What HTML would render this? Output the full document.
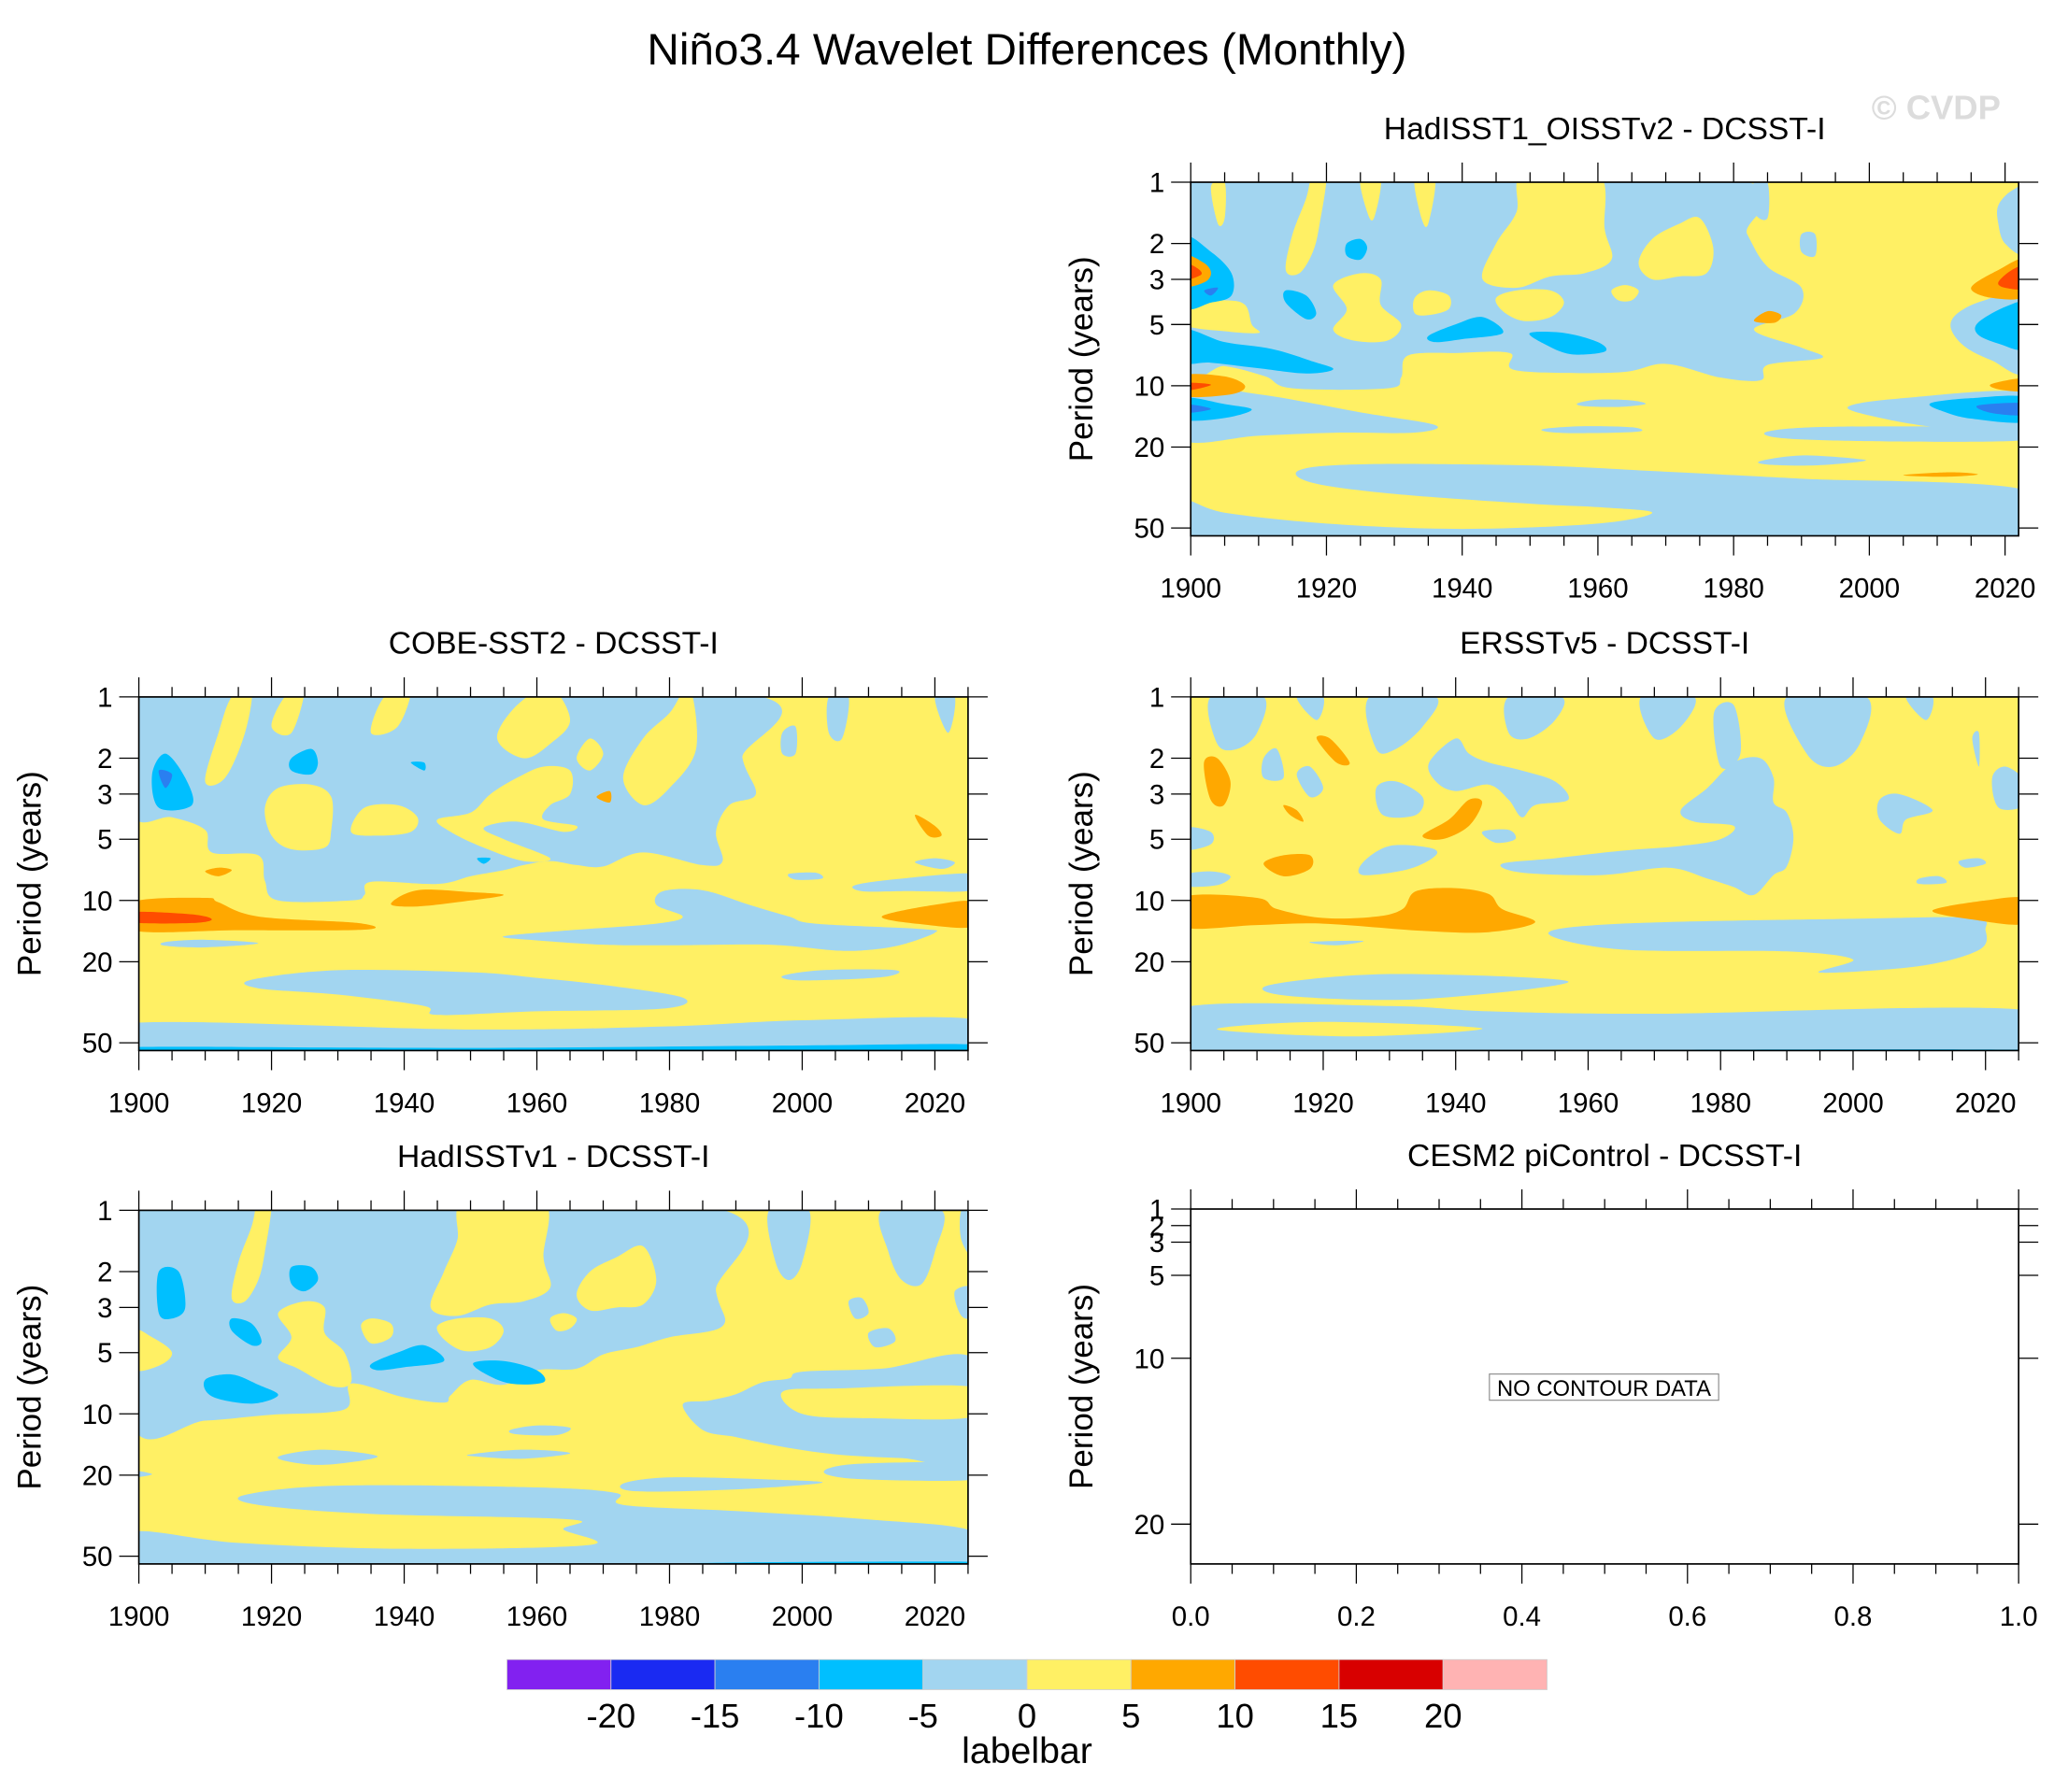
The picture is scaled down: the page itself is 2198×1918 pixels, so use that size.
<!DOCTYPE html>
<html><head><meta charset="utf-8"><style>
html,body{margin:0;padding:0;background:#fff}
svg{display:block}
text{font-family:"Liberation Sans",sans-serif}
</style></head><body>
<svg id="fig" xmlns="http://www.w3.org/2000/svg" width="2198" height="1918" viewBox="0 0 1568 1368">
<rect width="1568" height="1368" fill="#fff"/>
<text x="784" y="49" font-size="34" text-anchor="middle">Niño3.4 Wavelet Differences (Monthly)</text>
<text x="1478" y="91" font-size="26" font-weight="bold" fill="#dcdcdc" text-anchor="middle">© CVDP</text>
<g id="panels"></g>
<g id="labelbar"></g>
</svg>
<script>
const NS='http://www.w3.org/2000/svg';
const levelNames=['pu','b1','b2','cy','lb','y','or','rd','dr','pk'];
const levelColors=['#8221f0','#1a2af2','#2a7ff0','#00bfff','#a2d5f0','#fff064','#ffa800','#ff4c00','#d80000','#ffb3b3'];
const barTicks=['-20','-15','-10','-5','0','5','10','15','20'];
const yTickVals=[1,2,3,5,10,20,50];
const xTickYears=[1900,1920,1940,1960,1980,2000,2020];
const emptyYTicks=[1,2,3,5,10,20];
const emptyXTicks=[0,0.2,0.4,0.6,0.8,1.0];

// Panel A: HadISST1_OISSTv2 - DCSST-I
const shapesA=[
['lb',[[1899,0.95],[1978,0.95],[1982,1.8],[1985,2.6],[1990,3.3],[1989,4.4],[1983,5.3],[1990,6.5],[1993,7.3],[1985,7.9],[1984,9.4],[1978,9.1],[1970,7.8],[1963,8.6],[1948,8.4],[1947,6.9],[1939,6.9],[1932,7.1],[1931,9.1],[1929,10.3],[1915,10.3],[1911,9],[1905,8],[1899,8]]],
['lb',[[1899,10.4],[1910,11],[1925,13.5],[1936,15.6],[1933,17],[1922,17],[1910,17.6],[1899,18.5]]],
['y',[[1914,2.7],[1915,1.8],[1917,1.2],[1918,0.9],[1920,0.9],[1919,1.6],[1918,2.2],[1916,2.8]]],
['y',[[1943,3],[1945,2],[1948,1.4],[1949,0.9],[1960,0.9],[1961,1.7],[1962,2.4],[1958,2.8],[1953,2.9],[1948,3.3]]],
['y',[[1966,2.5],[1968,1.9],[1972,1.6],[1975,1.5],[1977,2.1],[1976,2.8],[1972,2.9],[1968,3]]],
['y',[[1921,3.2],[1925,2.8],[1928,3],[1928,4],[1931,5],[1929,6],[1924,6],[1921,5.3],[1923,4.2]]],
['y',[[1933,3.7],[1935,3.4],[1938,3.6],[1938,4.2],[1935,4.5],[1933,4.4]]],
['y',[[1945,3.7],[1948,3.4],[1953,3.4],[1955,3.9],[1953,4.6],[1949,4.8],[1946,4.3]]],
['y',[[1962,3.4],[1964,3.2],[1966,3.4],[1965,3.8],[1963,3.8]]],
['y',[[1899,3.9],[1905,3.8],[1908,4],[1909,5],[1910,5.5],[1905,5.4],[1899,5]]],
['y',[[1903,1.05],[1905,1.0],[1905,1.5],[1904,1.6]]],
['y',[[1925,0.95],[1928,0.95],[1927,1.5],[1926,1.4]]],
['y',[[1933,0.95],[1936,0.95],[1935,1.6],[1934,1.5]]],
['lb',[[2019,1.3],[2021,1.1],[2023,1.1],[2023,2.2],[2020,2],[2019,1.6]]],
['lb',[[1983,1.0],[1985,1.0],[1985,1.5],[1983,1.4]]],
['lb',[[1990,1.8],[1992,1.8],[1992,2.3],[1990,2.2]]],
['lb',[[2013,4.4],[2017,3.8],[2023,3.6],[2023,8.5],[2018,7.5],[2014,6.4],[2012,5.2]]],
['lb',[[1997,12.6],[2005,11.5],[2023,10.8],[2023,16.6],[2010,16],[2000,14]]],
['lb',[[1985,16.8],[1995,15.9],[2023,16.2],[2023,18.5],[2005,18.8],[1988,18.2]]],
['lb',[[1957,12.2],[1960,11.7],[1965,11.8],[1967,12.3],[1963,12.7],[1958,12.6]]],
['lb',[[1952,16.3],[1958,15.8],[1965,16],[1966,16.8],[1958,17.1],[1953,16.9]]],
['lb',[[1984,23.4],[1990,22],[1998,22.8],[1999,23.5],[1992,24.6],[1985,24.4]]],
['lb',[[1916,26],[1925,24.3],[1950,24.6],[1970,26.4],[1990,28.6],[2023,32.5],[2023,57],[1899,57],[1899,37],[1905,42],[1920,47.5],[1940,50.5],[1960,47.5],[1968,42],[1960,39.5],[1950,38],[1930,34],[1918,30]]],
['cy',[[1899,1.9],[1903,2.2],[1906,2.8],[1906,3.6],[1903,3.9],[1899,4]]],
['or',[[1899,2.3],[1902,2.5],[1903,2.8],[1902,3.1],[1899,3.2]]],
['rd',[[1899,2.5],[1901,2.65],[1901.5,2.85],[1899,3]]],
['b2',[[1902,3.4],[1904,3.3],[1903,3.6]]],
['cy',[[1899,5.3],[1905,6.1],[1912,6.6],[1918,7.6],[1921,8.3],[1917,8.7],[1910,8.2],[1903,7.7],[1899,7.6]]],
['or',[[1899,8.9],[1905,9],[1908,10],[1906,11],[1899,11.2]]],
['rd',[[1899,9.7],[1903,9.9],[1899,10.6]]],
['cy',[[1899,11.5],[1905,12.3],[1909,13.1],[1905,14.4],[1899,14.6]]],
['b2',[[1899,12.3],[1903,13],[1899,13.6]]],
['cy',[[1914,3.4],[1917,3.6],[1918.5,4.4],[1917,4.7],[1914,3.9]]],
['cy',[[1923,2],[1925,1.9],[1926,2.1],[1925,2.4],[1923,2.3]]],
['cy',[[1935,5.7],[1939,5],[1943,4.6],[1946,5.5],[1940,5.9],[1936,6.1]]],
['cy',[[1950,5.5],[1955,5.5],[1960,6.1],[1961,6.8],[1956,7],[1952,6.2]]],
['or',[[1983,4.8],[1985,4.3],[1987,4.5],[1986,4.9]]],
['cy',[[2016,4.9],[2020,4.1],[2023,4],[2023,6.5],[2019,6.2],[2016,5.6]]],
['or',[[2015,3.3],[2019,2.7],[2023,2.4],[2023,3.6],[2018,3.7]]],
['rd',[[2019,3.1],[2021,2.7],[2023,2.6],[2023,3.3],[2020,3.3]]],
['or',[[2018,9.8],[2023,9.2],[2023,10.6],[2019,10.4]]],
['cy',[[2009,12.2],[2015,11.5],[2023,11.4],[2023,15],[2015,14.5],[2011,13.4]]],
['b2',[[2016,12.5],[2023,12.2],[2023,13.9],[2018,13.6]]],
['or',[[2005,27.5],[2012,26.6],[2016,27.3],[2011,28]]]
];

// Panel B: COBE-SST2 - DCSST-I
const shapesB=[
['lb',[[1899,0.95],[1990,0.95],[1991,2],[1993,3],[1989,3.4],[1987,4.6],[1988,6.4],[1985,6.7],[1976,5.8],[1970,6.8],[1966,6.7],[1962,6.4],[1958,6.7],[1955,7.1],[1950,7.6],[1945,8.3],[1935,8.1],[1934,9.4],[1932,10],[1921,10],[1919,8],[1918,6],[1911,5.8],[1910,4.5],[1905,3.9],[1899,3.7]]],
['y',[[1919,3.5],[1921,2.8],[1926,2.7],[1929,3.1],[1929,4.5],[1928,5.5],[1923,5.6],[1920,4.8]]],
['y',[[1932,4.6],[1934,3.5],[1939,3.4],[1942,3.9],[1941,4.6],[1936,4.8]]],
['y',[[1945,4],[1950,3.7],[1953,3],[1957,2.5],[1961,2.2],[1965,2.3],[1965,3],[1962,3.4],[1961,4],[1966,4.3],[1964,4.6],[1957,4.1],[1952,4.4],[1955,5],[1962,6.2],[1958,6.4],[1952,5.5],[1947,4.6]]],
['y',[[1910,2.6],[1912,1.5],[1914,1],[1917,0.9],[1916,1.5],[1913,2.5]]],
['y',[[1920,1.4],[1922,1],[1925,0.9],[1923,1.5]]],
['y',[[1935,1.5],[1937,1],[1941,0.9],[1939,1.4]]],
['y',[[1954,1.6],[1957,1.1],[1962,0.9],[1965,1.3],[1962,1.7],[1958,2]]],
['y',[[1973,2.5],[1976,1.6],[1980,1.2],[1983,0.9],[1984,1.8],[1980,2.8],[1976,3.4]]],
['y',[[1966,2],[1968,1.6],[1970,1.9],[1968,2.3]]],
['lb',[[2004,1],[2007,1],[2006,1.6],[2004,1.5]]],
['lb',[[2020,1],[2023,1],[2022,1.5]]],
['lb',[[1997,1.5],[1999,1.4],[1999,1.9],[1997,1.9]]],
['lb',[[2008,8.4],[2015,7.8],[2026,7.4],[2026,8.9],[2015,9],[2009,9]]],
['lb',[[2017,6.5],[2020,6.2],[2023,6.5],[2021,7]]],
['lb',[[1998,7.4],[2002,7.3],[2003,7.8],[1999,7.9]]],
['lb',[[1979,9],[1985,8.9],[1992,10.5],[1998,12],[2002,13],[2018,13.8],[2020,14.4],[2015,16.5],[2010,17.5],[2005,17.6],[1995,16.5],[1980,16.6],[1970,16.5],[1960,15.7],[1955,15],[1965,14],[1978,13],[1982,12],[1978,10.5]]],
['lb',[[1904,16],[1910,15.6],[1918,16.2],[1910,17],[1904,16.7]]],
['lb',[[1997,23.5],[2003,22],[2014,22],[2012,23.8],[2000,24.7]]],
['lb',[[1917,24.5],[1930,22],[1950,22.5],[1960,24],[1970,26],[1982,30],[1979,34],[1960,35],[1945,36.5],[1943,33],[1930,29],[1918,27]]],
['lb',[[1899,40],[1950,43],[1980,41.5],[2000,38.8],[2026,38.5],[2026,57],[1899,57]]],
['cy',[[1899,52.5],[1950,53],[2000,51.5],[2026,51],[2026,57],[1899,57]]],
['or',[[1899,10.2],[1910,9.7],[1912,10.2],[1918,12],[1933,12.9],[1934,13.9],[1915,14],[1899,14]]],
['rd',[[1899,11.4],[1908,11.7],[1911,12.4],[1908,12.9],[1899,12.8]]],
['or',[[1938,10.4],[1942,8.9],[1950,9.1],[1955,9.4],[1950,10],[1942,10.7]]],
['or',[[2012,12],[2020,10.5],[2026,10.2],[2026,13.4],[2018,13.1]]],
['or',[[1910,7.2],[1912,6.9],[1914,7.1],[1912,7.6]]],
['or',[[1969,3.1],[1971,2.9],[1971,3.3]]],
['or',[[2017,3.8],[2020,4.3],[2021,4.8],[2019,4.8]]],
['cy',[[1902,2.4],[1904,1.9],[1907,2.5],[1908,3.4],[1903,3.5]]],
['b2',[[1903,2.3],[1905,2.4],[1904,2.8]]],
['cy',[[1923,2],[1926,1.8],[1927,2.1],[1926,2.4],[1923,2.3]]],
['cy',[[1941,2.1],[1943,2.1],[1943,2.3]]],
['cy',[[1951,6.2],[1953,6.2],[1952,6.6]]]
];

// Panel C: ERSSTv5 - DCSST-I
const shapesC=[
['lb',[[1903,1],[1911,1],[1910,1.5],[1907,1.8],[1904,1.7]]],
['lb',[[1927,1],[1937,1],[1935,1.4],[1931,1.8],[1928,1.8]]],
['lb',[[1948,1],[1956,1],[1955,1.3],[1951,1.6],[1948,1.5]]],
['lb',[[1968,1],[1976,1],[1974,1.4],[1970,1.6]]],
['lb',[[1990,1],[2002,1],[2001,1.7],[1997,2.2],[1993,1.9]]],
['lb',[[1979,1.2],[1982,1.1],[1983,1.9],[1980,2.2]]],
['lb',[[2008,1],[2012,1],[2011,1.3]]],
['lb',[[1916,1],[1920,1],[1919,1.3]]],
['lb',[[2018,1.6],[2019,1.5],[2019,2.2]]],
['lb',[[1936,2.1],[1940,1.6],[1942,1.9],[1945,2.1],[1950,2.3],[1955,2.6],[1957,3.2],[1952,3.4],[1950,3.9],[1948,3.2],[1945,2.7],[1940,2.9],[1937,2.6]]],
['lb',[[1974,3.6],[1978,2.8],[1982,2.1],[1986,2],[1988,2.5],[1988,3.3],[1990,3.7],[1991,4.9],[1990,6.8],[1988,7.5],[1985,9.4],[1982,8.6],[1978,7.8],[1972,6.9],[1962,7.5],[1950,7.3],[1947,6.6],[1955,6.2],[1965,5.7],[1974,5.4],[1980,5],[1982,4.3],[1976,4.1]]],
['lb',[[1926,6.5],[1930,5.4],[1936,5.5],[1937,6],[1933,7],[1926,7.5]]],
['lb',[[1899,7.5],[1903,7.2],[1906,7.6],[1904,8.4],[1899,8.5]]],
['lb',[[1899,4.4],[1903,4.6],[1903,5.3],[1899,5.6]]],
['lb',[[1928,2.8],[1931,2.6],[1935,3.1],[1934,3.8],[1929,3.8]]],
['lb',[[2004,3.2],[2007,3],[2012,3.6],[2008,4],[2007,4.7],[2004,4]]],
['lb',[[2021,2.5],[2023,2.2],[2026,2.6],[2026,3.4],[2022,3.5]]],
['lb',[[2016,6.4],[2019,6.2],[2020,6.6],[2017,6.9]]],
['lb',[[2010,7.8],[2013,7.6],[2014,8.2],[2010,8.3]]],
['lb',[[1918,16],[1926,15.8],[1922,16.6]]],
['lb',[[1944,4.6],[1948,4.5],[1949,5],[1946,5.2]]],
['lb',[[1911,2],[1913,1.8],[1914,2.5],[1911,2.5]]],
['lb',[[1916,2.4],[1918,2.2],[1920,2.8],[1918,3.1]]],
['lb',[[1954,14.5],[1965,13],[2000,12.3],[2018,12.2],[2020,14],[2019,17.5],[2010,21],[1995,22.6],[2000,19.5],[1990,17.8],[1965,17.4]]],
['lb',[[1912,26],[1930,23],[1957,25],[1935,30.5],[1915,29.5]]],
['lb',[[1899,33.5],[1930,33],[1945,35],[1970,36],[2026,34.5],[2026,57],[1899,57]]],
['y',[[1904,43],[1920,39.5],[1944,42.5],[1925,46.5]]],
['cy',[[1950,54.5],[2025,54],[2026,57],[1950,57]]],
['or',[[1899,9.6],[1910,9.7],[1913,11],[1920,12.2],[1928,12],[1932,11],[1934,9],[1940,8.7],[1945,9.3],[1947,11],[1952,12.8],[1945,14.3],[1935,14.1],[1920,13],[1910,13.2],[1899,13.5]]],
['or',[[2012,11.2],[2020,10],[2026,9.8],[2026,13],[2018,12.4]]],
['or',[[1902,2.1],[1904,2],[1906,2.6],[1905,3.4],[1903,3.2]]],
['or',[[1919,1.6],[1921,1.6],[1924,2.1],[1922,2.1]]],
['or',[[1914,3.4],[1916,3.6],[1917,4.1],[1915,3.8]]],
['or',[[1935,4.8],[1939,4],[1942,3.2],[1944,3.3],[1942,4.3],[1938,5]]],
['or',[[1911,6.6],[1914,6],[1918,6],[1918,7],[1914,7.6]]]
];

// Panel D: HadISSTv1 - DCSST-I
const shapesD=[
['lb',[[1899,0.95],[1985,0.95],[1987,2.5],[1988,3.7],[1980,4.2],[1975,4.7],[1970,5.1],[1966,6],[1960,6.1],[1955,7.2],[1950,6.8],[1947,8.1],[1946,8.8],[1940,8.3],[1932,7.1],[1931,9.5],[1920,10.1],[1910,10.8],[1899,11.2]]],
['lb',[[1982,9],[1986,8.6],[1990,8],[1994,7],[1998,6.7],[2000,6.2],[2012,6],[2026,5.4],[2026,17],[2015,16.5],[2005,15.8],[1997,14.5],[1990,13],[1985,12]]],
['y',[[1997,7.8],[2005,7.5],[2026,7.4],[2026,10.3],[2010,10.5],[2000,10]]],
['lb',[[2004,18.5],[2010,17.5],[2026,17.5],[2026,21],[2010,21],[2004,20]]],
['lb',[[1973,22],[1980,20.5],[1995,21],[2003,21.8],[1990,23.5],[1975,24]]],
['lb',[[1921.5,16],[1928,15],[1936,16.2],[1928,17.8],[1922,17]]],
['lb',[[1950,15.8],[1958,15],[1965,15.6],[1958,16.6],[1951,16.2]]],
['lb',[[1956,12],[1960,11.4],[1965,11.7],[1963,12.7],[1957,12.6]]],
['lb',[[1916,25],[1930,22.5],[1960,23],[1972,24.5],[1973,28],[1990,30],[2010,33],[2026,38],[2026,57],[1899,57],[1899,38],[1915,43],[1940,46],[1968,44],[1964,37],[1965,33],[1935,31],[1918,28]]],
['lb',[[1899,19],[1902,19.8],[1899,20.5]]],
['y',[[1921,3.2],[1925,2.8],[1928,3],[1928,4],[1931,5],[1932,7],[1929,7.3],[1924,6],[1921,5.3],[1923,4.2]]],
['y',[[1933.5,3.7],[1935,3.4],[1938,3.6],[1938,4.2],[1935,4.5]]],
['y',[[1945,3.7],[1948,3.4],[1953,3.4],[1955,3.9],[1953,4.7],[1949,4.9],[1946,4.3]]],
['y',[[1962,3.4],[1964,3.2],[1966,3.4],[1965,3.8],[1963,3.9]]],
['y',[[1899,3.9],[1902,4.2],[1905,5],[1903,5.8],[1899,6]]],
['y',[[1914,2.7],[1915,1.8],[1917,1.2],[1918,0.9],[1920,0.9],[1919,1.6],[1918,2.2],[1916,2.8]]],
['y',[[1944,3],[1946,2],[1948,1.4],[1949,0.9],[1961,0.9],[1961,1.7],[1962,2.4],[1958,2.8],[1953,2.9],[1948,3.3]]],
['y',[[1966,2.6],[1968,2],[1972,1.7],[1976,1.5],[1978,2.2],[1976,2.9],[1972,3],[1968,3.1]]],
['lb',[[1995,1],[2001,1],[2000,1.8],[1998,2.2],[1996,1.8]]],
['lb',[[2012,1],[2021,1],[2020,1.6],[2018,2.3],[2015,2.2],[2013,1.6]]],
['lb',[[2024,1],[2026,1],[2026,1.7],[2024,1.4]]],
['lb',[[2023,2.5],[2026,2.4],[2026,3.3],[2024,3.3]]],
['lb',[[2007,2.8],[2009,2.7],[2010,3.2],[2008,3.4]]],
['lb',[[2010,4],[2013,3.8],[2014,4.4],[2011,4.7]]],
['cy',[[1903,2],[1906,2],[1907,3],[1905,3.4],[1903,3.2]]],
['cy',[[1923,1.9],[1926,1.9],[1927,2.2],[1925,2.5],[1923,2.3]]],
['cy',[[1914,3.4],[1917,3.6],[1918.5,4.4],[1917,4.6],[1914,3.9]]],
['cy',[[1910,6.8],[1914,6.4],[1918,7.2],[1921,8.1],[1917,8.9],[1911,8.2]]],
['cy',[[1935,5.7],[1939,5],[1943,4.6],[1946,5.5],[1940,5.9],[1936,6.1]]],
['cy',[[1950.5,5.6],[1955,5.5],[1960,6.1],[1961,7],[1956,7.1],[1952,6.3]]],
['cy',[[1985,54],[2026,53.3],[2026,57],[1985,57]]]
];

const svg=document.getElementById('fig');
const panelsG=document.getElementById('panels');
function el(tag,attrs,parent){const e=document.createElementNS(NS,tag);for(const k in attrs)e.setAttribute(k,attrs[k]);(parent||svg).appendChild(e);return e;}
function smoothPath(pts){
  const n=pts.length;let d='M'+pts[0][0].toFixed(1)+','+pts[0][1].toFixed(1);
  for(let i=0;i<n;i++){
    const p0=pts[(i-1+n)%n],p1=pts[i],p2=pts[(i+1)%n],p3=pts[(i+2)%n];
    const c1=[p1[0]+(p2[0]-p0[0])/6,p1[1]+(p2[1]-p0[1])/6];
    const c2=[p2[0]-(p3[0]-p1[0])/6,p2[1]-(p3[1]-p1[1])/6];
    d+='C'+c1[0].toFixed(1)+','+c1[1].toFixed(1)+' '+c2[0].toFixed(1)+','+c2[1].toFixed(1)+' '+p2[0].toFixed(1)+','+p2[1].toFixed(1);
  }
  return d+'Z';
}
const PMAX=54.6;
const TICKFS=21;
function makePanel(id,title,x0,y0,w,h,yr0,yr1,shapes){
  const g=el('g',{},panelsG);
  
  
  const xs=yr=>x0+(yr-yr0)/(yr1-yr0)*w;
  const ys=p=>y0+Math.log10(p)/Math.log10(PMAX)*h;
  const cp=el('clipPath',{id:'clip-'+id},g);
  el('rect',{x:x0,y:y0,width:w,height:h},cp);
  const cg=el('g',{'clip-path':'url(#clip-'+id+')'},g);
  const bg=el('rect',{x:x0,y:y0,width:w,height:h,fill:levelColors[5]},cg);
  
  
  shapes.forEach(s=>{
    const pts=s[1].map(q=>[xs(q[0]),ys(q[1])]);
    const p=el('path',{d:smoothPath(pts),fill:levelColors[levelNames.indexOf(s[0])]},cg);
    
    
  });
  drawFrame(g,id,title,x0,y0,w,h);
  for(let yr=yr0;yr<=yr1;yr+=5){
    const major=(yr%20===0), L=major?15:7.6, X=xs(yr);
    el('line',{x1:X,y1:y0+h,x2:X,y2:y0+h+L,stroke:'#000','stroke-width':0.9},g);
    el('line',{x1:X,y1:y0,x2:X,y2:y0-L,stroke:'#000','stroke-width':0.9},g);
  }
  xTickYears.forEach(yr=>{
    const t=el('text',{x:xs(yr),y:y0+h+47,'font-size':TICKFS,'text-anchor':'middle'},g);
    t.textContent=yr;
    
    
  });
  yTickVals.forEach(v=>{
    const Y=ys(v);
    el('line',{x1:x0-15,y1:Y,x2:x0,y2:Y,stroke:'#000','stroke-width':0.9},g);
    el('line',{x1:x0+w,y1:Y,x2:x0+w+15,y2:Y,stroke:'#000','stroke-width':0.9},g);
    const t=el('text',{x:x0-20,y:Y+7.5,'font-size':TICKFS,'text-anchor':'end'},g);
    t.textContent=v;
    
    
  });
}
function drawFrame(g,id,title,x0,y0,w,h){
  el('rect',{x:x0,y:y0,width:w,height:h,fill:'none',stroke:'#000','stroke-width':1.2},g);
  const t=el('text',{x:x0+w/2,y:y0-33,'font-size':24,'text-anchor':'middle'},g);
  t.textContent=title;
  
  
  const yt=el('text',{x:0,y:0,'font-size':25,'text-anchor':'middle',transform:'translate('+(x0-75)+','+(y0+h/2)+') rotate(-90)'},g);
  yt.textContent='Period (years)';
  
  
}
makePanel('hadisst1-oisstv2','HadISST1_OISSTv2 - DCSST-I',909,139,632,270,1900,2022,shapesA);
makePanel('cobe-sst2','COBE-SST2 - DCSST-I',106,532,633,270,1900,2025,shapesB);
makePanel('ersstv5','ERSSTv5 - DCSST-I',909,532,632,270,1900,2025,shapesC);
makePanel('hadisstv1','HadISSTv1 - DCSST-I',106,924,633,270,1900,2025,shapesD);

(function(){
  const x0=909,y0=923,w=632,h=271;
  const g=el('g',{},panelsG);
  
  
  const xs=v=>x0+v*w;
  const ys=p=>y0+(p-1)/(22.4-1)*h;
  drawFrame(g,'cesm2','CESM2 piControl - DCSST-I',x0,y0,w,h);
  for(let i=0;i<=20;i++){
    const v=i*0.05, major=(i%4===0), L=major?15:7.6, X=xs(v);
    el('line',{x1:X,y1:y0+h,x2:X,y2:y0+h+L,stroke:'#000','stroke-width':0.9},g);
    el('line',{x1:X,y1:y0,x2:X,y2:y0-L,stroke:'#000','stroke-width':0.9},g);
  }
  emptyXTicks.forEach(v=>{
    const t=el('text',{x:xs(v),y:y0+h+47,'font-size':TICKFS,'text-anchor':'middle'},g);
    t.textContent=v.toFixed(1);
    
    
  });
  emptyYTicks.forEach(v=>{
    const Y=ys(v);
    el('line',{x1:x0-15,y1:Y,x2:x0,y2:Y,stroke:'#000','stroke-width':0.9},g);
    el('line',{x1:x0+w,y1:Y,x2:x0+w+15,y2:Y,stroke:'#000','stroke-width':0.9},g);
    const t=el('text',{x:x0-20,y:Y+7.5,'font-size':TICKFS,'text-anchor':'end'},g);
    t.textContent=v;
    
    
  });
  const b=el('rect',{x:1137,y:1049,width:175,height:20,fill:'#fff',stroke:'#888','stroke-width':0.8},g);
  
  
  const t=el('text',{x:1224.5,y:1065.5,'font-size':17,'text-anchor':'middle'},g);
  t.textContent='NO CONTOUR DATA';
  
  
})();

(function(){
  const lb=document.getElementById('labelbar');
  const x0=387,x1=1181,y0=1267,hh=23,bw=(x1-x0)/levelColors.length;
  levelColors.forEach((c,i)=>{
    const r=el('rect',{x:x0+i*bw,y:y0,width:bw,height:hh,fill:c,stroke:'#d0d0d0','stroke-width':0.6},lb);
    
    
  });
  barTicks.forEach((s,i)=>{
    const t=el('text',{x:x0+(i+1)*bw,y:1319,'font-size':26,'text-anchor':'middle'},lb);
    t.textContent=s;
    
    
  });
  const t=el('text',{x:784,y:1346,'font-size':28,'text-anchor':'middle'},lb);
  t.textContent='labelbar';
  
  
})();
</script>
</body></html>
